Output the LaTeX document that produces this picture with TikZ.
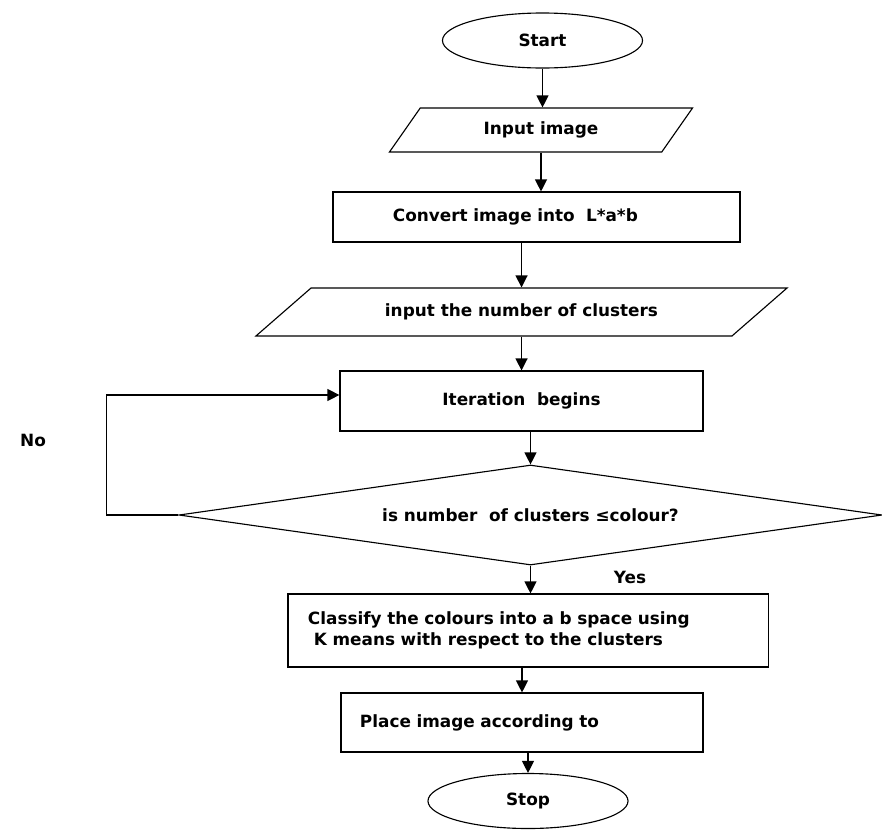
\documentclass[tikz,border=0pt]{standalone}
\usepackage{fontspec}
\setmainfont{DejaVu Sans}
\usepackage{tikz}
\usetikzlibrary{arrows.meta,shapes.geometric}

\begin{document}
\begin{tikzpicture}[x=0.025cm,y=-0.025cm,>={Triangle[length=8.5pt,width=8.5pt]},
    every node/.style={font=\bfseries\fontsize{12}{15}\selectfont},line width=0.8pt]
    % pixel grid of the original chart, y runs downwards
    \tikzstyle{terminal}=[ellipse,draw=black,minimum width=5cm,minimum height=1.375cm]
    \tikzstyle{io}=[trapezium,draw=black,trapezium stretches body=true,minimum height=1.1cm]
    \tikzstyle{process}=[rectangle,draw=black,minimum height=1.25cm]
    \tikzstyle{decision}=[diamond,draw=black,aspect=7,minimum width=17.575cm,minimum height=2.5cm]

    \useasboundingbox (0,0) rectangle (882,830);

    \node [terminal]  (start)    at (542.5,40.5) {Start};
    \node [io,trapezium left angle=40,trapezium right angle=140,minimum width=7.575cm]
                      (input)    at (541,130) {Input image};
    \node [process,minimum width=10.175cm,text width=7.175cm,inner xsep=1.5cm,align=left]
                      (convert)  at (536.5,217) {Convert image into \ L*a*b};
    \node [io,trapezium left angle=25,trapezium right angle=155,minimum width=13.275cm,minimum height=1.2cm]
                      (clusters) at (521.5,312) {input the number of clusters};
    \node [process,minimum width=9.075cm,minimum height=1.5cm]
                      (iter)     at (521.5,401) {Iteration \ begins};
    \node [decision]  (test)     at (530.5,515) {is number \ of clusters ≤colour?};
    \node [process,minimum width=12cm,minimum height=1.825cm,text width=11cm,inner xsep=0.5cm,align=left]
                      (classify) at (528,630.5) {Classify the colours into a b space using\\\hspace{0.15cm}K means with respect to the clusters};
    \node [process,minimum width=9.05cm,minimum height=1.475cm,text width=8.1cm,inner xsep=0.475cm,align=left]
                      (place)    at (522,722.5) {Place image according to\\[4pt]};
    \node [terminal]  (stop)     at (528,801) {Stop};

    \node (no)  at (33,440)  {No};
    \node (yes) at (630,577) {Yes};

    \draw [->] (start.south) -- (start.south |- input.north);
    \draw [->] (input.south) -- (input.south |- convert.north);
    \draw [->] (convert.south -| clusters.north) -- (clusters.north);
    \draw [->] (clusters.south) -- (clusters.south |- iter.north);
    \draw [->] (iter.south -| test.north) -- (test.north);
    \draw [->] (test.south) -- (test.south |- classify.north);
    \draw [->] (classify.south -| place.north) -- (place.north);
    \draw [->] (place.south -| stop.north) -- (stop.north);
    \draw [->] (test.west) -- ++(-72,0) |- ([yshift=0.15cm]iter.west);

\end{tikzpicture}
\end{document}
